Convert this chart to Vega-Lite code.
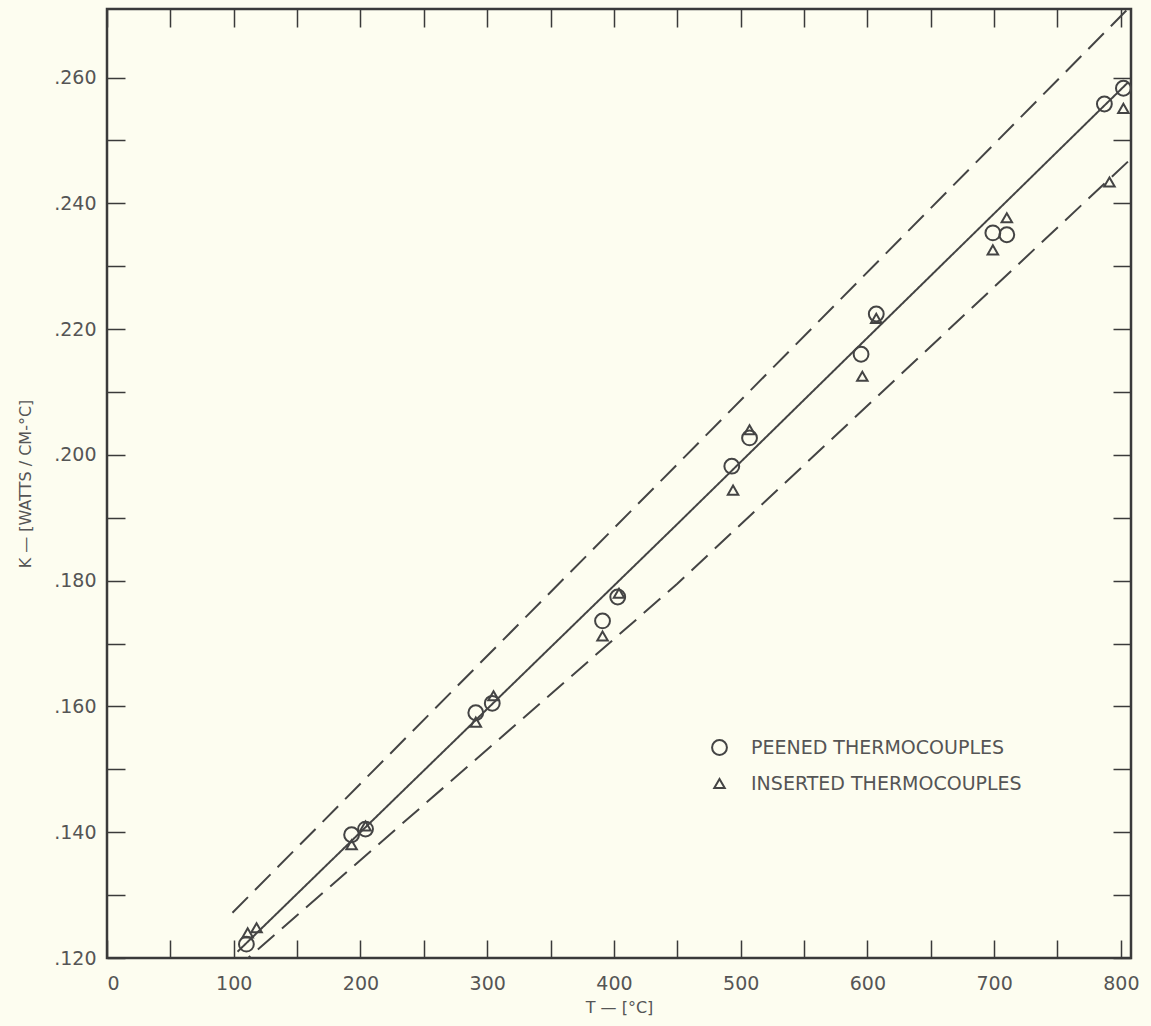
{
  "$schema": "https://vega.github.io/schema/vega-lite/v6.json",
  "autosize": "none",
  "padding": {"left": 107, "top": 9, "right": 20, "bottom": 68},
  "width": 1024,
  "height": 949,
  "background": "#fdfdf0",
  "config": {
    "view": {"stroke": "#3a3a3a", "strokeWidth": 2.5},
    "font": "DejaVu Sans",
    "axis": {"domain": false, "grid": false, "tickColor": "#3a3a3a", "tickWidth": 1.5, "tickSize": -18, "labelColor": "#555", "labelFont": "DejaVu Sans", "labelFontSize": 19, "titleColor": "#555", "titleFont": "DejaVu Sans", "titleFontWeight": "normal", "titleFontSize": 16}
  },
  "datasets": {
    "lines": [
      {"series": "fit", "T": 103, "K": 0.1210},
      {"series": "fit", "T": 450, "K": 0.1890},
      {"series": "fit", "T": 806, "K": 0.2593},
      {"series": "upper", "T": 99, "K": 0.1272},
      {"series": "upper", "T": 450, "K": 0.1985},
      {"series": "upper", "T": 806, "K": 0.2710},
      {"series": "lower", "T": 100, "K": 0.1180},
      {"series": "lower", "T": 450, "K": 0.1795},
      {"series": "lower", "T": 807, "K": 0.2469}
    ],
    "points": [
      {"type": "PEENED THERMOCOUPLES", "T": 110, "K": 0.1222},
      {"type": "PEENED THERMOCOUPLES", "T": 193, "K": 0.1396},
      {"type": "PEENED THERMOCOUPLES", "T": 204, "K": 0.1405},
      {"type": "PEENED THERMOCOUPLES", "T": 291, "K": 0.1590},
      {"type": "PEENED THERMOCOUPLES", "T": 304, "K": 0.1605},
      {"type": "PEENED THERMOCOUPLES", "T": 391, "K": 0.1736},
      {"type": "PEENED THERMOCOUPLES", "T": 403, "K": 0.1774},
      {"type": "PEENED THERMOCOUPLES", "T": 493, "K": 0.1982},
      {"type": "PEENED THERMOCOUPLES", "T": 507, "K": 0.2027},
      {"type": "PEENED THERMOCOUPLES", "T": 595, "K": 0.2160},
      {"type": "PEENED THERMOCOUPLES", "T": 607, "K": 0.2224},
      {"type": "PEENED THERMOCOUPLES", "T": 699, "K": 0.2353},
      {"type": "PEENED THERMOCOUPLES", "T": 710, "K": 0.2350},
      {"type": "PEENED THERMOCOUPLES", "T": 787, "K": 0.2558},
      {"type": "PEENED THERMOCOUPLES", "T": 802, "K": 0.2583},
      {"type": "INSERTED THERMOCOUPLES", "T": 111, "K": 0.1240},
      {"type": "INSERTED THERMOCOUPLES", "T": 118, "K": 0.1248},
      {"type": "INSERTED THERMOCOUPLES", "T": 193, "K": 0.1380},
      {"type": "INSERTED THERMOCOUPLES", "T": 204, "K": 0.1410},
      {"type": "INSERTED THERMOCOUPLES", "T": 291, "K": 0.1575},
      {"type": "INSERTED THERMOCOUPLES", "T": 305, "K": 0.1617},
      {"type": "INSERTED THERMOCOUPLES", "T": 391, "K": 0.1712},
      {"type": "INSERTED THERMOCOUPLES", "T": 404, "K": 0.1780},
      {"type": "INSERTED THERMOCOUPLES", "T": 494, "K": 0.1944},
      {"type": "INSERTED THERMOCOUPLES", "T": 507, "K": 0.2040},
      {"type": "INSERTED THERMOCOUPLES", "T": 596, "K": 0.2125},
      {"type": "INSERTED THERMOCOUPLES", "T": 607, "K": 0.2217},
      {"type": "INSERTED THERMOCOUPLES", "T": 699, "K": 0.2326},
      {"type": "INSERTED THERMOCOUPLES", "T": 710, "K": 0.2377},
      {"type": "INSERTED THERMOCOUPLES", "T": 791, "K": 0.2434},
      {"type": "INSERTED THERMOCOUPLES", "T": 802, "K": 0.2551}
    ]
  },
  "resolve": {"axis": {"x": "independent", "y": "independent"}},
  "layer": [
    {
      "data": {"name": "lines"},
      "mark": {"type": "line", "clip": true, "color": "#444", "strokeWidth": 2},
      "encoding": {
        "x": {"field": "T", "type": "quantitative", "scale": {"domain": [0, 808], "nice": false, "zero": false},
          "axis": {"orient": "bottom", "values": [0,50,100,150,200,250,300,350,400,450,500,550,600,650,700,750,800], "labelExpr": "datum.value % 100 == 0 ? datum.label : ''", "labelPadding": 34, "title": "T — [°C]", "titlePadding": 6}},
        "y": {"field": "K", "type": "quantitative", "scale": {"domain": [0.12, 0.2709], "nice": false, "zero": false},
          "axis": {"orient": "left", "values": [0.12,0.13,0.14,0.15,0.16,0.17,0.18,0.19,0.2,0.21,0.22,0.23,0.24,0.25,0.26], "labelExpr": "round(datum.value*1000) % 20 == 0 ? replace(format(datum.value, '.3f'), '0.', '.') : ''", "labelPadding": 29, "title": "K — [WATTS / CM-°C]", "titlePadding": 20}},
        "detail": {"field": "series"},
        "strokeDash": {"field": "series", "type": "nominal", "scale": {"domain": ["fit", "upper", "lower"], "range": [[1, 0], [22, 10], [22, 10]]}, "legend": null}
      }
    },
    {
      "data": {"name": "points"},
      "mark": {"type": "point", "filled": false, "strokeWidth": 2, "color": "#444", "opacity": 1},
      "encoding": {
        "x": {"field": "T", "type": "quantitative", "scale": {"domain": [0, 808], "nice": false, "zero": false}, "axis": null},
        "y": {"field": "K", "type": "quantitative", "scale": {"domain": [0.12, 0.2709], "nice": false, "zero": false}, "axis": null},
        "shape": {"field": "type", "type": "nominal", "scale": {"domain": ["PEENED THERMOCOUPLES", "INSERTED THERMOCOUPLES"], "range": ["circle", "triangle-up"]},
          "legend": {"title": null, "orient": "none", "legendX": 603, "legendY": 729, "labelFontSize": 19, "labelLimit": 0, "labelColor": "#555", "labelFont": "DejaVu Sans", "symbolStrokeColor": "#444", "symbolStrokeWidth": 2, "symbolFillColor": "transparent", "rowPadding": 15, "labelOffset": 22}},
        "size": {"field": "type", "type": "nominal", "scale": {"domain": ["PEENED THERMOCOUPLES", "INSERTED THERMOCOUPLES"], "range": [220, 110]}}
      }
    },
    {
      "data": {"name": "lines"},
      "mark": {"type": "point", "opacity": 0},
      "encoding": {
        "x": {"field": "T", "type": "quantitative", "scale": {"domain": [0, 808], "nice": false, "zero": false},
          "axis": {"orient": "top", "values": [0,50,100,150,200,250,300,350,400,450,500,550,600,650,700,750,800], "labels": false, "title": null}},
        "y": {"field": "K", "type": "quantitative", "scale": {"domain": [0.12, 0.2709], "nice": false, "zero": false},
          "axis": {"orient": "right", "values": [0.12,0.13,0.14,0.15,0.16,0.17,0.18,0.19,0.2,0.21,0.22,0.23,0.24,0.25,0.26], "labels": false, "title": null}}
      }
    }
  ]
}
